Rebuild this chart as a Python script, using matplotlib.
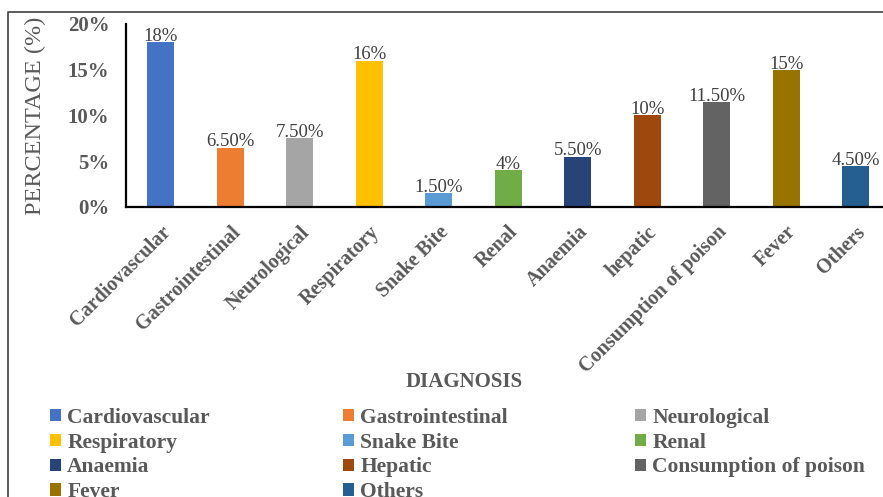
import matplotlib.pyplot as plt
from matplotlib.patches import Patch
from matplotlib.lines import Line2D
from matplotlib.transforms import ScaledTranslation

# diagnosis categories and their share of cases
categories = ['Cardiovascular', 'Gastrointestinal', 'Neurological', 'Respiratory',
              'Snake Bite', 'Renal', 'Anaemia', 'hepatic', 'Consumption of poison',
              'Fever', 'Others']
legend_names = ['Cardiovascular', 'Gastrointestinal', 'Neurological', 'Respiratory',
                'Snake Bite', 'Renal', 'Anaemia', 'Hepatic', 'Consumption of poison',
                'Fever', 'Others']
values = [18, 6.5, 7.5, 16, 1.5, 4, 5.5, 10, 11.5, 15, 4.5]
colors = ['#4472C4', '#ED7D31', '#A5A5A5', '#FFC000', '#5B9BD5', '#70AD47',
          '#264478', '#9E480E', '#636363', '#997300', '#255E91']
yticks = [0, 5, 10, 15, 20]
ytick_labels = ['0%', '5%', '10%', '15%', '20%']

plt.rcParams['font.family'] = ['Liberation Serif', 'DejaVu Serif']
grey = '#595959'

W, H = 883, 497
fig = plt.figure(figsize=(W / 100, H / 100), dpi=100)
ax = fig.add_axes([126 / W, 1 - 207 / H, (890.5 - 126) / W, (207 - 24) / H])

x = list(range(len(categories)))
ax.bar(x, values, width=0.39, color=colors)
ax.set_xlim(-0.5, len(categories) - 0.5)
ax.set_ylim(0, 20)

# value labels on top of bars
for xi, v in zip(x, values):
    txt = '%d%%' % v if float(v).is_integer() else '%.2f%%' % v
    ax.annotate(txt, (xi, v), xytext=(0, -2), textcoords='offset points',
                ha='center', va='bottom', fontsize=13.5, color='#404040')

ax.set_yticks(yticks)
ax.set_yticklabels(ytick_labels, fontsize=15, fontweight='bold', color=grey)
ax.set_xticks(x)
ax.set_xticklabels(categories, rotation=45, ha='right', va='center',
                   rotation_mode='anchor', fontsize=14.5, fontweight='bold', color=grey)
ax.tick_params(axis='x', length=0, pad=16)
ax.tick_params(axis='y', length=0, pad=12)
shift = ScaledTranslation(5 / 72, 0, fig.dpi_scale_trans)
for lab in ax.get_xticklabels():
    lab.set_transform(lab.get_transform() + shift)

for s in ['top', 'right']:
    ax.spines[s].set_visible(False)
for s in ['left', 'bottom']:
    ax.spines[s].set_linewidth(1.6)
    ax.spines[s].set_color('black')

fig.text(35 / W, 1 - 116 / H, 'PERCENTAGE (%)', rotation=90, ha='center',
         va='center', fontsize=17.5, color=grey)
fig.text(464 / W, 1 - 382 / H, 'DIAGNOSIS', ha='center', va='center',
         fontsize=15, fontweight='bold', color=grey)

# legend laid out row by row in three columns
handles = [Patch(facecolor=c, edgecolor='none') for c in colors]
col_x = [50, 343, 635]
for ci, cx in enumerate(col_x):
    idx = list(range(ci, len(categories), 3))
    leg = fig.legend([handles[i] for i in idx], [legend_names[i] for i in idx],
                     loc='upper left', bbox_to_anchor=(cx / W, 1 - 408 / H),
                     frameon=False, borderpad=0, borderaxespad=0,
                     handlelength=0.5, handleheight=0.5, handletextpad=0.3,
                     labelspacing=0.22,
                     prop={'weight': 'bold', 'size': 15.5})
    for t in leg.get_texts():
        t.set_color(grey)

# outer frame
fig.add_artist(Line2D([8 / W, 8 / W, 1.01], [-0.01, 1 - 12 / H, 1 - 12 / H],
                      transform=fig.transFigure, color='#404040', lw=1.2))

fig.savefig('out.png', dpi=100)
